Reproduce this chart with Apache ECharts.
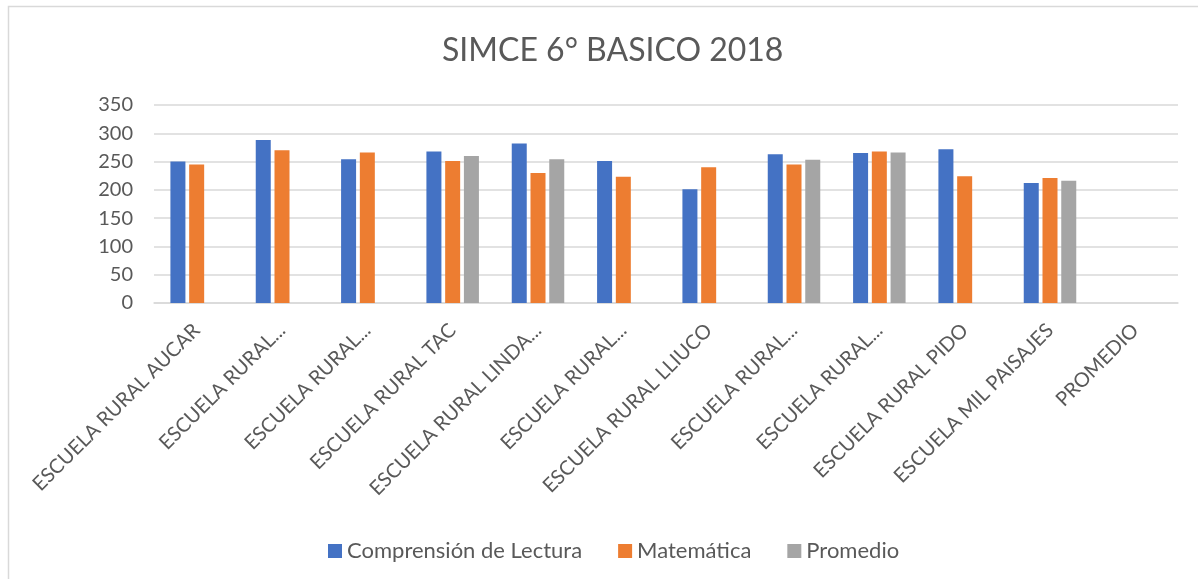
<!DOCTYPE html>
<html>
<head>
<meta charset="utf-8">
<script src="https://cdn.jsdelivr.net/npm/echarts@6/dist/echarts.min.js"></script>
<style>
  html, body { margin: 0; padding: 0; background: #fff; }
  #chart { width: 1198px; height: 579px; }
</style>
</head>
<body>
<div id="chart"></div>
<script>
const categories = [
  'ESCUELA RURAL AUCAR', 'ESCUELA RURAL...', 'ESCUELA RURAL...', 'ESCUELA RURAL TAC',
  'ESCUELA RURAL LINDA...', 'ESCUELA RURAL...', 'ESCUELA RURAL LLIUCO', 'ESCUELA RURAL...',
  'ESCUELA RURAL...', 'ESCUELA RURAL PIDO', 'ESCUELA MIL PAISAJES', 'PROMEDIO'
];
const lectura    = [250, 288, 254, 268, 282, 251, 201, 263, 265, 272, 212, null];
const matematica = [245, 270, 266, 251, 230, 223, 240, 245, 268, 224, 221, null];
const promedio   = [null, null, null, 260, 254, null, null, 253, 266, null, 216, null];
const yTicks = { min: 0, max: 350, interval: 50 };

const font = 'Lato, "Open Sans", sans-serif';
const textColor = '#595959';

const chart = echarts.init(document.getElementById('chart'), null, { renderer: 'canvas' });

function bar(name, data, color) {
  return {
    name, type: 'bar', data,
    barWidth: 15, barGap: '25%',
    itemStyle: { color },
  };
}

chart.setOption({
  animation: false,
  textStyle: { fontFamily: font },
  title: {
    text: 'SIMCE 6° BASICO 2018',
    left: 437, top: 30,
    textStyle: { fontFamily: font, fontSize: 32, fontWeight: 'normal', color: textColor },
  },
  graphic: [{
    type: 'rect', silent: true,
    shape: { x: 8.5, y: 6.5, width: 1300, height: 700 },
    style: { fill: 'none', stroke: '#d9d9d9', lineWidth: 1.5 },
  }],
  legend: {
    top: 535, left: 323,
    itemWidth: 14, itemHeight: 14, itemGap: 36,
    icon: 'rect',
    textStyle: { fontFamily: font, fontSize: 22, color: textColor },
    data: ['Comprensión de Lectura', 'Matemática', 'Promedio'],
  },
  grid: { left: 154, right: 20, top: 105, bottom: 276 },
  xAxis: {
    type: 'category',
    data: categories,
    axisLine: { lineStyle: { color: '#d9d9d9', width: 1.5 } },
    axisTick: { show: false },
    axisLabel: {
      interval: 0, rotate: 45, margin: 24,
      fontFamily: font, fontSize: 20, color: textColor,
    },
  },
  yAxis: {
    type: 'value',
    min: yTicks.min, max: yTicks.max, interval: yTicks.interval,
    axisLine: { show: false },
    axisTick: { show: false },
    splitLine: { lineStyle: { color: '#d9d9d9', width: 1.5 } },
    axisLabel: { margin: 21, fontFamily: font, fontSize: 20, color: textColor },
  },
  series: [
    bar('Comprensión de Lectura', lectura, '#4472C4'),
    bar('Matemática', matematica, '#ED7D31'),
    bar('Promedio', promedio, '#A5A5A5'),
  ],
});
</script>
</body>
</html>
